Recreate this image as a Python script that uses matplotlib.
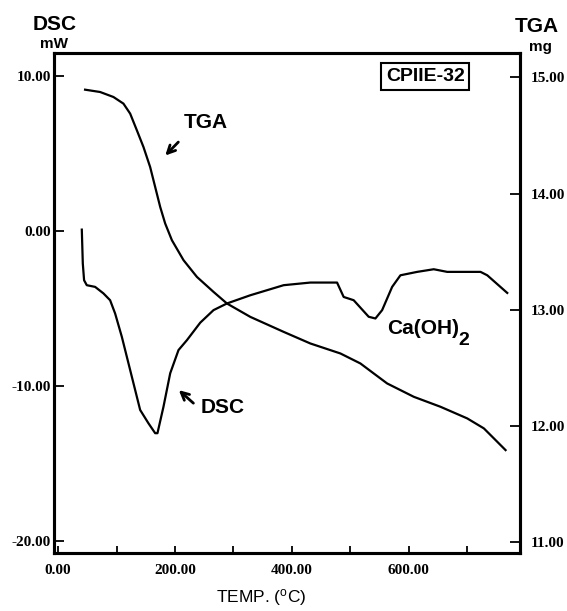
import matplotlib
matplotlib.use("Agg")
import matplotlib.pyplot as plt

plt.rcParams["mathtext.default"] = "regular"

# DSC trace (mW) vs temperature (deg C)
dsc_temp = [40.6, 42.3, 44.5, 49.1, 63.4, 77.6, 89.0, 97.6, 109.1, 123.3, 140.4,
            154.6, 166.1, 170.0, 180.3, 191.8, 206.0, 220.4, 243.2, 265.9, 288.9,
            328.8, 385.8, 431.5, 477.2, 488.5, 505.6, 531.3, 542.8, 554.3, 571.4,
            585.6, 614.2, 642.6, 665.6, 722.6, 734.1, 768.3]
dsc_mw = [0.09, -2.10, -3.18, -3.50, -3.61, -4.03, -4.47, -5.33, -6.84, -8.98, -11.56,
          -12.42, -13.06, -13.06, -11.35, -9.19, -7.69, -7.05, -5.92, -5.11, -4.68,
          -4.15, -3.50, -3.33, -3.33, -4.26, -4.47, -5.54, -5.65, -5.11, -3.61,
          -2.86, -2.64, -2.47, -2.64, -2.64, -2.86, -4.0]

# TGA trace (mg) vs temperature (deg C)
tga_temp = [46.2, 71.9, 94.7, 111.8, 123.3, 134.8, 146.1, 157.5, 166.1, 174.7,
            183.2, 194.7, 214.6, 237.5, 265.9, 288.9, 328.8, 385.8, 431.5, 482.9,
            517.1, 539.9, 562.8, 608.4, 654.1, 699.8, 728.3, 745.4, 765.4]
tga_mg = [14.894, 14.874, 14.831, 14.774, 14.688, 14.544, 14.400, 14.228, 14.056,
          13.884, 13.742, 13.598, 13.426, 13.282, 13.153, 13.053, 12.938, 12.809,
          12.709, 12.623, 12.537, 12.451, 12.365, 12.250, 12.164, 12.064, 11.978,
          11.892, 11.791]

x_ticks = [0, 100, 200, 300, 400, 500, 600, 700]
x_labels = ["0.00", "", "200.00", "", "400.00", "", "600.00", ""]
dsc_ticks = [10, 0, -10, -20]
dsc_labels = ["10.00", "0.00", "-10.00", "-20.00"]
tga_ticks = [15, 14, 13, 12, 11]
tga_labels = ["15.00", "14.00", "13.00", "12.00", "11.00"]

sans = "Liberation Sans"
serif = "Liberation Serif"

fig = plt.figure(figsize=(5.67, 6.11), dpi=100)
ax = fig.add_axes([0.0952, 0.0949, 0.8218, 0.8184])
ax2 = ax.twinx()

ax.plot(dsc_temp, dsc_mw, color="black", lw=1.6, solid_joinstyle="round")
ax2.plot(tga_temp, tga_mg, color="black", lw=1.6, solid_joinstyle="round")

ax.set_xlim(-7, 790)
ax.set_ylim(-20.8, 11.5)
ax2.set_ylim(10.905, 15.21)

ax.set_xticks(x_ticks, x_labels)
ax.set_yticks(dsc_ticks, dsc_labels)
ax2.set_yticks(tga_ticks, tga_labels)

for a in (ax, ax2):
    for s in a.spines.values():
        s.set_linewidth(2.2)
ax.tick_params(axis="x", direction="in", length=5, width=1.3, pad=8)
ax.tick_params(axis="y", direction="in", length=7, width=1.3, pad=2)
ax2.tick_params(axis="y", direction="in", length=7, width=1.3, pad=8)
for lab in ax.get_xticklabels() + ax.get_yticklabels() + ax2.get_yticklabels():
    lab.set_fontfamily(serif)
    lab.set_fontweight("bold")
    lab.set_fontsize(11)

# axis headers
fig.text(55 / 567, 1 - 24 / 611, "DSC", ha="center", va="center",
         fontfamily=sans, fontweight="bold", fontsize=15)
fig.text(54 / 567, 1 - 44 / 611, "mW", ha="center", va="center",
         fontfamily=sans, fontweight="bold", fontsize=11)
fig.text(537 / 567, 1 - 27 / 611, "TGA", ha="center", va="center",
         fontfamily=sans, fontweight="bold", fontsize=15)
fig.text(540 / 567, 1 - 47 / 611, "mg", ha="center", va="center",
         fontfamily=sans, fontweight="bold", fontsize=11)
fig.text(261 / 567, 1 - 598 / 611, "TEMP. ($^{o}$C)", ha="center", va="center",
         fontfamily=sans, fontsize=12.5)

# sample tag
ax.text(628, 9.97, "CPIIE-32", ha="center", va="center", fontfamily=sans,
        fontweight="bold", fontsize=14,
        bbox=dict(boxstyle="square,pad=0.25", fc="white", ec="black", lw=1.5))

# curve labels with arrows
ax2.text(252, 14.61, "TGA", ha="center", va="center", fontfamily=sans,
         fontweight="bold", fontsize=15)
ax2.annotate("", xy=(180, 14.31), xytext=(209, 14.46),
             arrowprops=dict(arrowstyle="->", lw=2, color="black", mutation_scale=14))
ax.text(281, -11.4, "DSC", ha="center", va="center", fontfamily=sans,
        fontweight="bold", fontsize=15)
ax.annotate("", xy=(203, -10.16), xytext=(235, -11.24),
            arrowprops=dict(arrowstyle="->", lw=2, color="black", mutation_scale=14))
ax.text(563, -6.3, "Ca(OH)", ha="left", va="center", fontfamily=sans,
        fontweight="bold", fontsize=15)
ax.text(685, -7.1, "2", ha="left", va="center", fontfamily=sans,
        fontweight="bold", fontsize=14)

fig.savefig("out.png", dpi=100)
